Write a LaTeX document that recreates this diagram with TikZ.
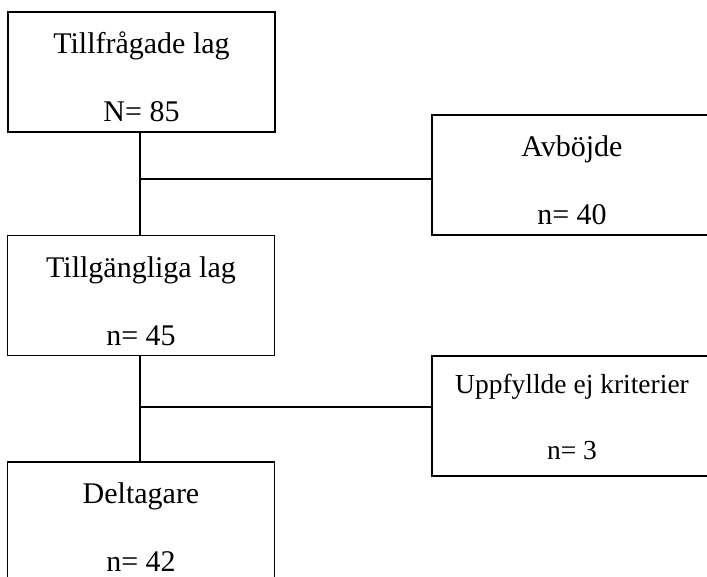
\documentclass[tikz,border=0pt]{standalone}
\usepackage{fontspec}
\setmainfont{Liberation Serif}

\tikzset{
    flowbox/.style={draw,rectangle,inner sep=0pt,minimum height=48pt,align=center,
        font=\fontsize{12}{13.6}\selectfont,text height=40pt,text depth=0pt},
    leftbox/.style={flowbox,minimum width=106.8pt},
    sidebox/.style={flowbox,minimum width=112pt}
}

\begin{document}
\begin{tikzpicture}[x=0.4pt,y=-0.4pt,line width=0.6pt]
        \useasboundingbox (0,0) rectangle (707,577);
        \clip (0,0) rectangle (707,577);

        % main column
        \node[leftbox] (asked) at (141.5,72) {Tillfrågade lag\\[13.6pt]N= 85};
        \node[leftbox] (avail) at (141,295.5) {Tillgängliga lag\\[13.6pt]n= 45};
        \node[leftbox] (part)  at (141,522) {Deltagare\\[13.6pt]n= 42};

        % exclusions
        \node[sidebox] (declined) at (572,175) {Avböjde\\[13.6pt]n= 40};
        \node[sidebox,font=\fontsize{11}{13.2}\selectfont,text height=35.2pt]
            (notmet) at (572,416) {Uppfyllde ej kriterier\\[13.2pt]n= 3};

        \coordinate (j1) at (140,179);
        \coordinate (j2) at (140,407);

        \draw (j1 |- asked.south) -- (j1 |- avail.north);
        \draw (j1) -- (j1 -| declined.west);
        \draw (j2 |- avail.south) -- (j2 |- part.north);
        \draw (j2) -- (j2 -| notmet.west);
    \end{tikzpicture}
\end{document}
